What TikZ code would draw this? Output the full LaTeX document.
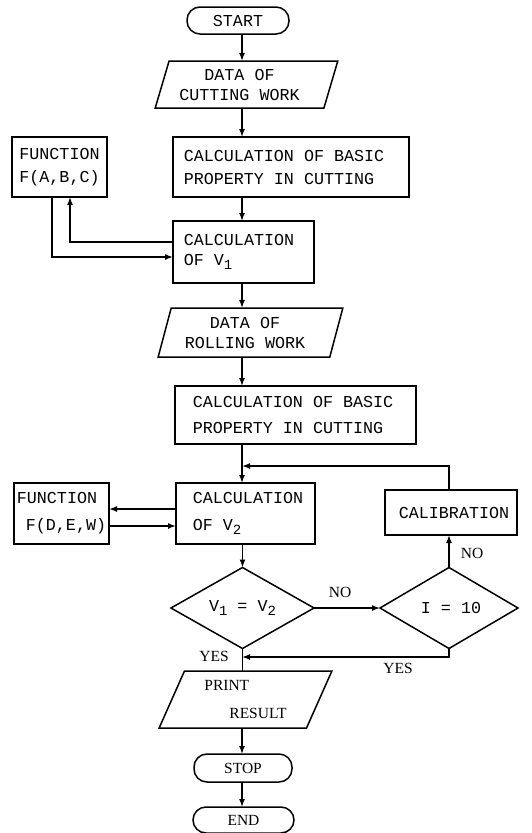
\documentclass[tikz,border=0pt]{standalone}
\usepackage{fontspec}
\setmainfont{Liberation Serif}
\newfontfamily\monof{Liberation Mono}
\usetikzlibrary{shapes.geometric,arrows.meta}
\newcommand{\subnum}[1]{\raisebox{-4pt}{\fontsize{14}{14}\selectfont #1}}
\begin{document}
\begin{tikzpicture}[x=1pt,y=-1pt,
  every node/.style={inner sep=0pt, outer sep=0pt},
  ln/.style={line width=1.5pt},
  arr/.style={ln, -{Latex[length=8pt,width=6pt]}},
  mono/.style={font=\monof\fontsize{16.7}{20}\selectfont},
  ser/.style={font=\fontsize{15.5}{18}\selectfont},
  term/.style={draw, ln, rounded corners=13pt, minimum height=27pt},
  box/.style={draw, ln, rectangle},
  io/.style={draw, ln, trapezium, trapezium stretches=true},
  dec/.style={draw, ln, diamond, aspect=1.75, minimum height=81pt}
]
\useasboundingbox (0,0) rectangle (531,833);
\coordinate (ax) at (242,0);

% nodes
\node[term, mono, minimum width=102pt] (start) at (238,20.5) {START};
\node[io, mono, align=center, trapezium left angle=69, trapezium right angle=111,
      minimum width=183pt, minimum height=47pt] (data1) at (246.5,84.5)
      {DATA OF\hspace*{14pt}\\CUTTING WORK\hspace*{14pt}};
\node[box, mono, align=left, minimum width=236pt, minimum height=60pt,
      font=\monof\fontsize{16.7}{23}\selectfont] (calc1) at (291,167)
      {CALCULATION OF BASIC\hspace*{14pt}\\PROPERTY IN CUTTING};
\node[box, mono, align=center, minimum width=95pt, minimum height=60pt,
      font=\monof\fontsize{16.7}{23}\selectfont] (f1) at (59.5,167) {FUNCTION\\F(A,B,C)};
\node[box, mono, align=left, minimum width=141pt, minimum height=62pt] (v1) at (243.5,252)
      {CALCULATION\hspace*{9pt}\\OF V\subnum{1}};
\node[io, mono, align=center, trapezium left angle=71, trapezium right angle=109,
      minimum width=185pt, minimum height=49pt] (data2) at (250.5,332.5)
      {DATA OF\hspace*{11pt}\\ROLLING WORK\hspace*{11pt}};
\node[box, mono, align=left, minimum width=241pt, minimum height=58pt,
      font=\monof\fontsize{16.7}{26}\selectfont] (calc2) at (295.5,415)
      {CALCULATION OF BASIC\hspace*{5pt}\\PROPERTY IN CUTTING};
\node[box, mono, align=left, minimum width=139pt, minimum height=61pt,
      font=\monof\fontsize{16.7}{27}\selectfont] (v2) at (245.5,513.5)
      {CALCULATION\hspace*{-5pt}\\OF V\subnum{2}};
\node[box, mono, align=left, minimum width=95pt, minimum height=61pt,
      font=\monof\fontsize{16.7}{27}\selectfont] (f2) at (61.5,513.5) {FUNCTION\\\hspace{9pt}F(D,E,W)};
\node[box, mono, minimum width=132pt, minimum height=45pt] (cal) at (451,512.5) {\hspace{6pt}CALIBRATION};
\node[dec, mono, minimum width=143pt] (d1) at (242.5,608) {V\subnum{1} = V\subnum{2}};
\node[dec, mono, minimum width=138pt] (d2) at (449,608) {\hspace{4pt}I = 10};
\node[io, ser, align=left, trapezium left angle=66, trapezium right angle=114,
      minimum width=173pt, minimum height=57pt, font=\fontsize{15.5}{28}\selectfont]
      (print) at (245.5,699.5) {PRINT\\\hspace{25pt}RESULT};
\node[term, ser, minimum width=98pt, minimum height=28pt] (stop) at (243,768) {STOP};
\node[term, ser, minimum width=101pt, minimum height=26pt] (endn) at (243.5,820) {END};

% labels
\node[ser] (lno1) at (340,592) {NO};
\node[ser] (lno2) at (472,553) {NO};
\node[ser] (lyes1) at (214,656) {YES};
\node[ser] (lyes2) at (398,668) {YES};

% connectors
\draw[arr] (start.south -| ax) -- (data1.north -| ax);
\draw[arr] (data1.south -| ax) -- (calc1.north -| ax);
\draw[arr] (calc1.south -| ax) -- (v1.north -| ax);
\draw[arr] (v1.west |- 0,242) -| (f1.south -| 70,0);
\draw[arr] (f1.south -| 52,0) |- (v1.west |- 0,257);
\draw[arr] (v1.south -| ax) -- (data2.north -| ax);
\draw[arr] (data2.south -| ax) -- (calc2.north -| ax);
\draw[arr] (calc2.south -| ax) -- (v2.north -| ax);
\draw[arr] (v2.west |- 0,509) -- (f2.east |- 0,509);
\draw[arr] (f2.east |- 0,526) -- (v2.west |- 0,526);
\draw[arr] (v2.south -| d1.north) -- (d1.north);
\draw[arr] (d1.east) -- (d2.west);
\draw[arr] (d2.north) -- (cal.south -| d2.north);
\draw[arr] (cal.north -| d2.north) |- (ax |- 0,466);
\draw[arr] (d2.south) |- (ax |- 0,657);
\draw[ln] (d1.south) -- (print.north -| d1.south);
\draw[arr] (print.south -| ax) -- (stop.north -| ax);
\draw[arr] (stop.south -| ax) -- (endn.north -| ax);
\end{tikzpicture}
\end{document}
